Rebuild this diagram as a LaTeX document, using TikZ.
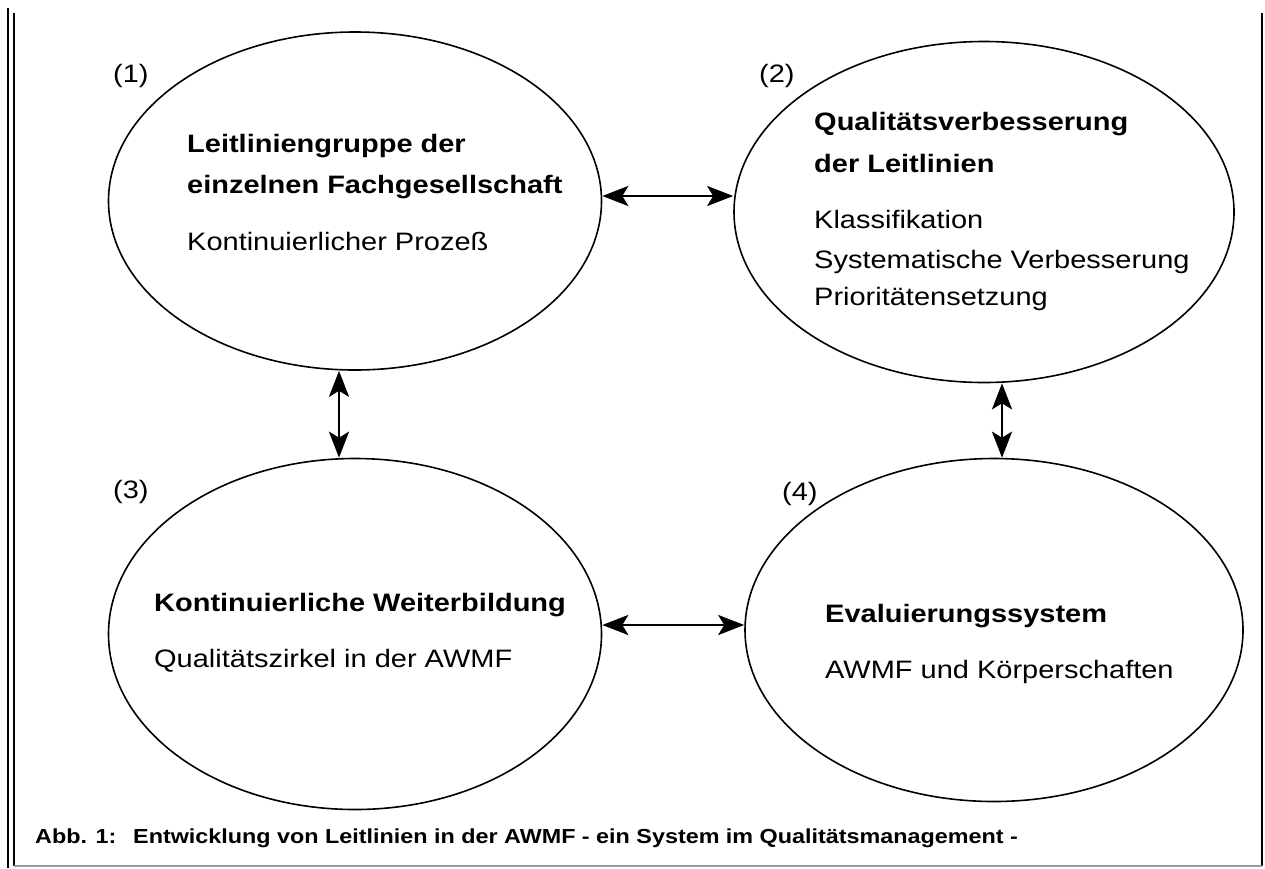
\documentclass[tikz,border=0pt]{standalone}
\usepackage{fontspec}
\setmainfont{Liberation Sans}[FakeStretch=1.15]
\usetikzlibrary{shapes.geometric,arrows.meta}
\begin{document}
\begin{tikzpicture}[x=1pt,y=-1pt,
  ell/.style={draw, ellipse, line width=1.6pt, inner sep=0pt},
  txt/.style={anchor=base west, inner sep=0pt, font=\fontsize{25.2}{30}\selectfont},
  btxt/.style={txt, font=\fontsize{25.2}{30}\selectfont\bfseries},
  captxt/.style={anchor=base west, inner sep=0pt, font=\fontsize{20.3}{24}\selectfont\bfseries},
  arr/.style={line width=2.8pt, {Stealth[length=26pt,width=20pt,inset=6pt]}-{Stealth[length=26pt,width=20pt,inset=6pt]}},
  frameline/.style={line width=1.2pt}]
\useasboundingbox (0,0) rectangle (1265,868);
% frame
\draw[line width=2.2pt] (8,8) -- (8,868);
\draw[frameline] (14,13) -- (14,866);
\draw[frameline] (1262,13) -- (1262,866);
\draw[frameline, black!40] (14,866) -- (1262,866);
% ellipses
\node[ell, minimum width=493pt, minimum height=338pt] (e1) at (355,201) {};
\node[ell, minimum width=500pt, minimum height=341pt] (e2) at (984,212) {};
\node[ell, minimum width=493pt, minimum height=351pt] (e3) at (355,634) {};
\node[ell, minimum width=498pt, minimum height=343pt] (e4) at (994,630) {};
% numbers
\node[txt] (n1) at (113,82) {(1)};
\node[txt] (n2) at (759,82) {(2)};
\node[txt] (n3) at (113,498) {(3)};
\node[txt] (n4) at (782,500) {(4)};
% texts
\node[btxt] (t1a) at (187,152) {Leitliniengruppe der};
\node[btxt] (t1b) at (187,193) {einzelnen Fachgesellschaft};
\node[txt] (t1c) at (187,250) {Kontinuierlicher Prozeß};
\node[btxt] (t2a) at (814,130) {Qualitätsverbesserung};
\node[btxt] (t2b) at (814,172) {der Leitlinien};
\node[txt] (t2c) at (814,228) {Klassifikation};
\node[txt] (t2d) at (814,268) {Systematische Verbesserung};
\node[txt] (t2e) at (814,305) {Prioritätensetzung};
\node[btxt] (t3a) at (154,611) {Kontinuierliche Weiterbildung};
\node[txt] (t3b) at (154,667) {Qualitätszirkel in der AWMF};
\node[btxt] (t4a) at (825,622) {Evaluierungssystem};
\node[txt] (t4b) at (825,678) {AWMF und Körperschaften};
% caption
\node[captxt] (c1) at (35,843) {Abb. 1:};
\node[captxt] (c2) at (133,843) {Entwicklung von Leitlinien in der AWMF - ein System im Qualitätsmanagement -};
% arrows
\draw[arr] ([yshift=5pt]e1.east) -- ([yshift=5pt]e1.east -| e2.west);
\draw[arr] ([xshift=-16pt]e1.south) -- ([xshift=-16pt]e1.south |- e3.north);
\draw[arr] ([xshift=18pt]e2.south) -- ([xshift=18pt]e2.south |- e4.north);
\draw[arr] ([yshift=9pt]e3.east) -- ([yshift=9pt]e3.east -| e4.west);
\end{tikzpicture}
\end{document}
